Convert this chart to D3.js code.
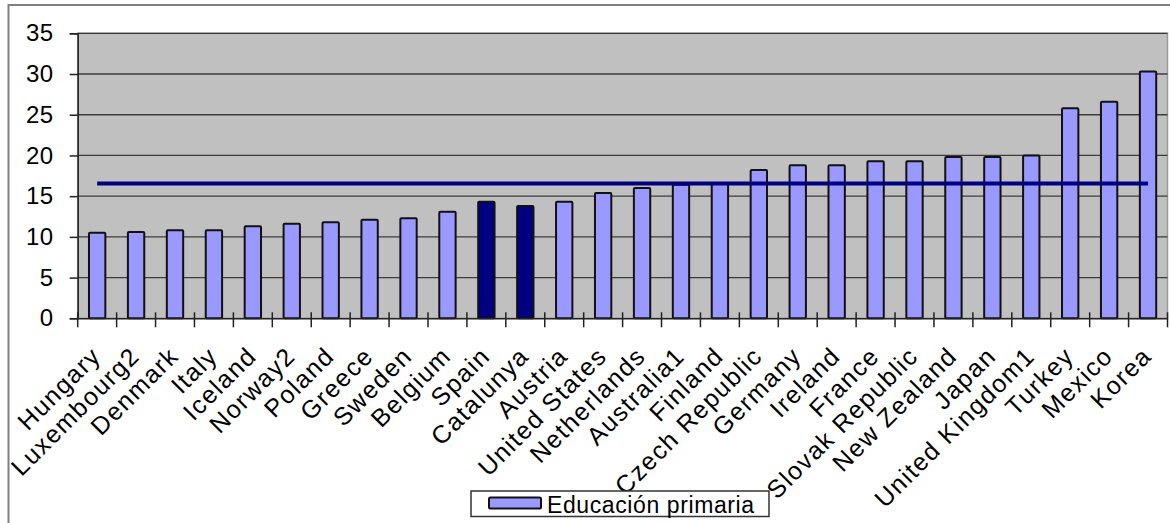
<!DOCTYPE html>
<html>
<head>
<meta charset="utf-8">
<script src="https://cdn.jsdelivr.net/npm/d3@7"></script>
<style>
  html, body { margin: 0; padding: 0; background: #fff; }
  svg { display: block; }
  text { font-family: Arial, "Liberation Sans", sans-serif; fill: #000; }
</style>
</head>
<body>
<svg id="chart" width="1170" height="523"></svg>
<script>
const categories = ["Hungary","Luxembourg2","Denmark","Italy","Iceland","Norway2","Poland","Greece","Sweden","Belgium","Spain","Catalunya","Austria","United States","Netherlands","Australia1","Finland","Czech Republic","Germany","Ireland","France","Slovak Republic","New Zealand","Japan","United Kingdom1","Turkey","Mexico","Korea"];
const primaria = [10.5,10.6,10.8,10.8,11.3,11.6,11.8,12.1,12.3,13.1,14.3,13.8,14.3,15.4,16.0,16.4,16.6,18.2,18.8,18.8,19.3,19.3,19.8,19.8,20.0,25.8,26.6,30.3];
const highlighted = ["Spain","Catalunya"];
const average = 16.55;
const yTicks = [0,5,10,15,20,25,30,35];
const seriesName = "Educación primaria";

const svg = d3.select("#chart");

// outer chart border
svg.append("rect").attr("x", 8.5).attr("y", 5).attr("width", 1180).attr("height", 540)
  .attr("fill", "#fff").attr("stroke", "#808080").attr("stroke-width", 2);

const plotL = 77.7, plotR = 1167.5, plotT = 33.3, plotB = 318.3;
const x = d3.scaleBand().domain(categories).range([plotL, plotR]).padding(0);
const y = d3.scaleLinear().domain([0, 35]).range([plotB, plotT]);

// plot background
svg.append("rect").attr("x", plotL).attr("y", plotT).attr("width", plotR - plotL).attr("height", plotB - plotT)
  .attr("fill", "#c0c0c0").attr("stroke", "#9a9a9a").attr("stroke-width", 1.5);

// gridlines
svg.append("g").selectAll("line").data(yTicks.filter(d => d > 0)).join("line")
  .attr("x1", plotL).attr("x2", plotR)
  .attr("y1", d => y(d)).attr("y2", d => y(d))
  .attr("stroke", "#3c3c3c").attr("stroke-width", 1.3);

// y axis
const yAxis = svg.append("g").attr("transform", `translate(${plotL},0)`)
  .call(d3.axisLeft(y).tickValues(yTicks).tickSize(8).tickPadding(16));
yAxis.select(".domain").attr("stroke", "#222").attr("stroke-width", 1.5);
yAxis.selectAll(".tick line").attr("stroke", "#222").attr("stroke-width", 1.5);
yAxis.selectAll(".tick text").style("font-size", "24px").style("letter-spacing", "0.5px").style("fill", "#000");

// bars
const barW = x.bandwidth() * 0.42;
svg.append("g").selectAll("rect").data(categories).join("rect")
  .attr("x", (d) => x(d) + x.bandwidth() / 2 - barW / 2)
  .attr("y", (d, i) => y(primaria[i]))
  .attr("width", barW)
  .attr("height", (d, i) => y(0) - y(primaria[i]))
  .attr("fill", d => highlighted.includes(d) ? "#000080" : "#9999ff")
  .attr("stroke", "#111").attr("stroke-width", 2).attr("rx", 1);

// x axis
const xAxis = svg.append("g").attr("transform", `translate(0,${plotB})`)
  .call(d3.axisBottom(x).tickSize(0).tickFormat(""));
xAxis.select(".domain").attr("stroke", "#222").attr("stroke-width", 1.5);
// category boundary ticks (cross)
const bounds = categories.map(c => x(c)).concat([x(categories[categories.length-1]) + x.bandwidth()]);
svg.append("g").selectAll("line").data(bounds).join("line")
  .attr("x1", d => d).attr("x2", d => d)
  .attr("y1", plotB - 6).attr("y2", plotB + 9)
  .attr("stroke", "#222").attr("stroke-width", 1.5);

// x labels
svg.append("g").selectAll("text").data(categories).join("text")
  .attr("transform", d => `translate(${x(d) + x.bandwidth()/2 - 1},${plotB + 33}) rotate(-45)`)
  .attr("text-anchor", "end")
  .attr("dy", "0.35em")
  .style("font-size", "25px")
  .style("letter-spacing", "1.5px")
  .text(d => d);

// average line
const line = d3.line().x(d => x(d) + x.bandwidth() / 2).y(() => y(average));
svg.append("path").datum(categories).attr("d", line)
  .attr("fill", "none").attr("stroke", "#000080").attr("stroke-width", 4);

// legend
const lg = svg.append("g");
lg.append("rect").attr("x", 471).attr("y", 491).attr("width", 298).attr("height", 25.5)
  .attr("fill", "#fff").attr("stroke", "#333").attr("stroke-width", 1.5);
lg.append("rect").attr("x", 489).attr("y", 497.5).attr("width", 52).attr("height", 11)
  .attr("fill", "#9999ff").attr("stroke", "#111").attr("stroke-width", 2).attr("rx", 1.5);
lg.append("text").attr("x", 547).attr("y", 512.5).style("font-size", "23px").style("letter-spacing", "0.6px").text(seriesName);
</script>
</body>
</html>
